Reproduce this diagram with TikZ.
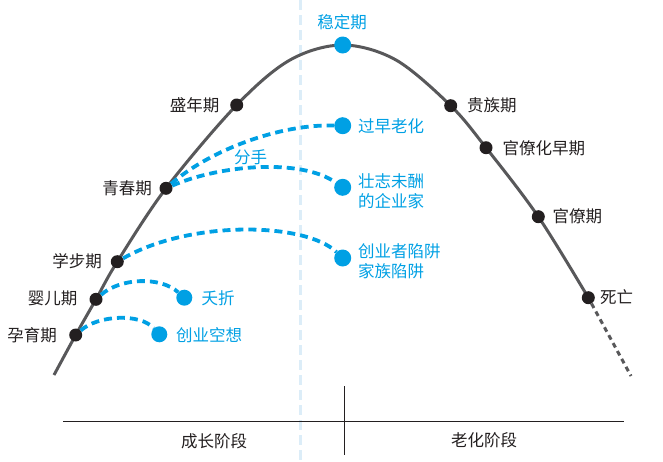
\documentclass[tikz,border=0pt]{standalone}
\usepackage{fontspec}
\newfontfamily\cjkfont{Noto Sans CJK SC}
\usetikzlibrary{backgrounds}
\definecolor{cblue}{HTML}{00A0E4}
\definecolor{pale}{HTML}{DCEDF8}
\definecolor{curvegray}{HTML}{58585A}
\definecolor{ink}{HTML}{231F20}
\begin{document}
\begin{tikzpicture}[x=1pt,y=-1pt,
  bdot/.style={circle,fill=ink,inner sep=0pt,minimum size=13pt},
  udot/.style={circle,fill=cblue,inner sep=0pt,minimum size=17pt},
  lbl/.style={font=\cjkfont\fontsize{16.5}{20}\selectfont,text=ink,inner sep=0pt},
  blbl/.style={lbl,text=cblue},
  conn/.style={draw=cblue,line width=3.8pt,dash pattern=on 8pt off 5pt},
  backbone/.style={draw=curvegray,line width=3pt},
  tailline/.style={draw=curvegray,line width=3pt,dash pattern=on 5pt off 4pt},
  guideline/.style={draw=pale,line width=3pt,dash pattern=on 10pt off 5pt},
  axisline/.style={draw=ink,line width=0.8pt}]
\useasboundingbox (0,0) rectangle (663,461);

% points on the life-cycle curve
\coordinate (c0) at (54,375);
\coordinate (p-yun) at (75.7,335);
\coordinate (p-ye) at (96,299.3);
\coordinate (p-xb) at (117.3,261.7);
\coordinate (p-qc) at (166,188.3);
\coordinate (p-sn) at (236.7,105);
\coordinate (h1) at (290,60);
\coordinate (p-wd) at (342.7,45);
\coordinate (h2) at (396,60);
\coordinate (p-gz) at (450.7,105.7);
\coordinate (p-glz) at (486,147.7);
\coordinate (p-gl) at (538.3,216.7);
\coordinate (p-sw) at (588.3,297.7);
\coordinate (tailend) at (631,376);

% black stage dots
\node[bdot] (yun) at (p-yun) {};
\node[bdot] (yinger) at (p-ye) {};
\node[bdot] (xuebu) at (p-xb) {};
\node[bdot] (qingchun) at (p-qc) {};
\node[bdot] (shengnian) at (p-sn) {};
\node[bdot] (guizu) at (p-gz) {};
\node[bdot] (guanliaozao) at (p-glz) {};
\node[bdot] (guanliao) at (p-gl) {};
\node[bdot] (siwang) at (p-sw) {};

% blue dots
\node[udot] (wending) at (p-wd) {};
\node[udot] (guozao) at (342.7,125.7) {};
\node[udot] (zhuangzhi) at (342.7,187.3) {};
\node[udot] (chuangye) at (342.7,258) {};
\node[udot,minimum size=16pt] (yaozhe) at (184.3,297.7) {};
\node[udot,minimum size=16pt] (kongxiang) at (159.3,334.3) {};

% labels
\node[lbl,anchor=east] (t-yun) at (57,335) {孕育期};
\node[lbl,anchor=east] (t-ye) at (77.5,298.5) {婴儿期};
\node[lbl,anchor=east] (t-xb) at (102,261.5) {学步期};
\node[lbl,anchor=east] (t-qc) at (152,188) {青春期};
\node[lbl,anchor=east] (t-sn) at (219.5,105) {盛年期};
\node[lbl,anchor=west] (t-gz) at (467,105.5) {贵族期};
\node[lbl,anchor=west] (t-glz) at (502.5,148) {官僚化早期};
\node[lbl,anchor=west] (t-gl) at (552.5,216.5) {官僚期};
\node[lbl,anchor=west] (t-sw) at (600,297.5) {死亡};

\node[blbl] (t-wd) at (342,22) {稳定期};
\node[blbl,anchor=west] (t-gzl) at (358,126.5) {过早老化};
\node[blbl,anchor=west,align=left] (t-zz) at (358,191) {壮志未酬\\的企业家};
\node[blbl,anchor=west,align=left] (t-cy) at (358,261) {创业者陷阱\\家族陷阱};
\node[blbl,anchor=west] (t-yz) at (201.5,298.5) {夭折};
\node[blbl,anchor=west] (t-kx) at (176,335.5) {创业空想};
\node[blbl] (t-fs) at (250.7,157.7) {分手};

% bottom axis
\coordinate (bl) at (63,421);
\coordinate (br) at (624,421);
\coordinate (vt) at (344,386);
\coordinate (vb) at (344,455);
\draw[axisline] (bl) -- (br);
\draw[axisline] (vt) -- (vb);
\node[lbl] (t-cz) at (214,441.5) {成长阶段};
\node[lbl] (t-lh) at (484,440) {老化阶段};

\begin{scope}[on background layer]
  \coordinate (gtop) at (300,0);
  \coordinate (gbot) at (300,461);
  \draw[guideline] (gtop) -- (gbot);
  \draw[backbone] plot[smooth,tension=0.55] coordinates {(c0) (p-yun) (p-ye) (p-xb) (p-qc) (p-sn) (h1) (p-wd) (h2) (p-gz) (p-glz) (p-gl) (p-sw)};
  \draw[tailline] (siwang) -- (tailend);
  \draw[conn] (qingchun) .. controls (210,150) and (280,124) .. (guozao);
  \draw[conn] (qingchun) .. controls (220,165) and (300,158) .. (zhuangzhi);
  \draw[conn] (xuebu) .. controls (190,220) and (305,222) .. (chuangye);
  \draw[conn] (yinger) .. controls (120,278) and (160,276) .. (yaozhe);
  \draw[conn] (yun) .. controls (98,315) and (140,313) .. (kongxiang);
\end{scope}
\end{tikzpicture}
\end{document}
